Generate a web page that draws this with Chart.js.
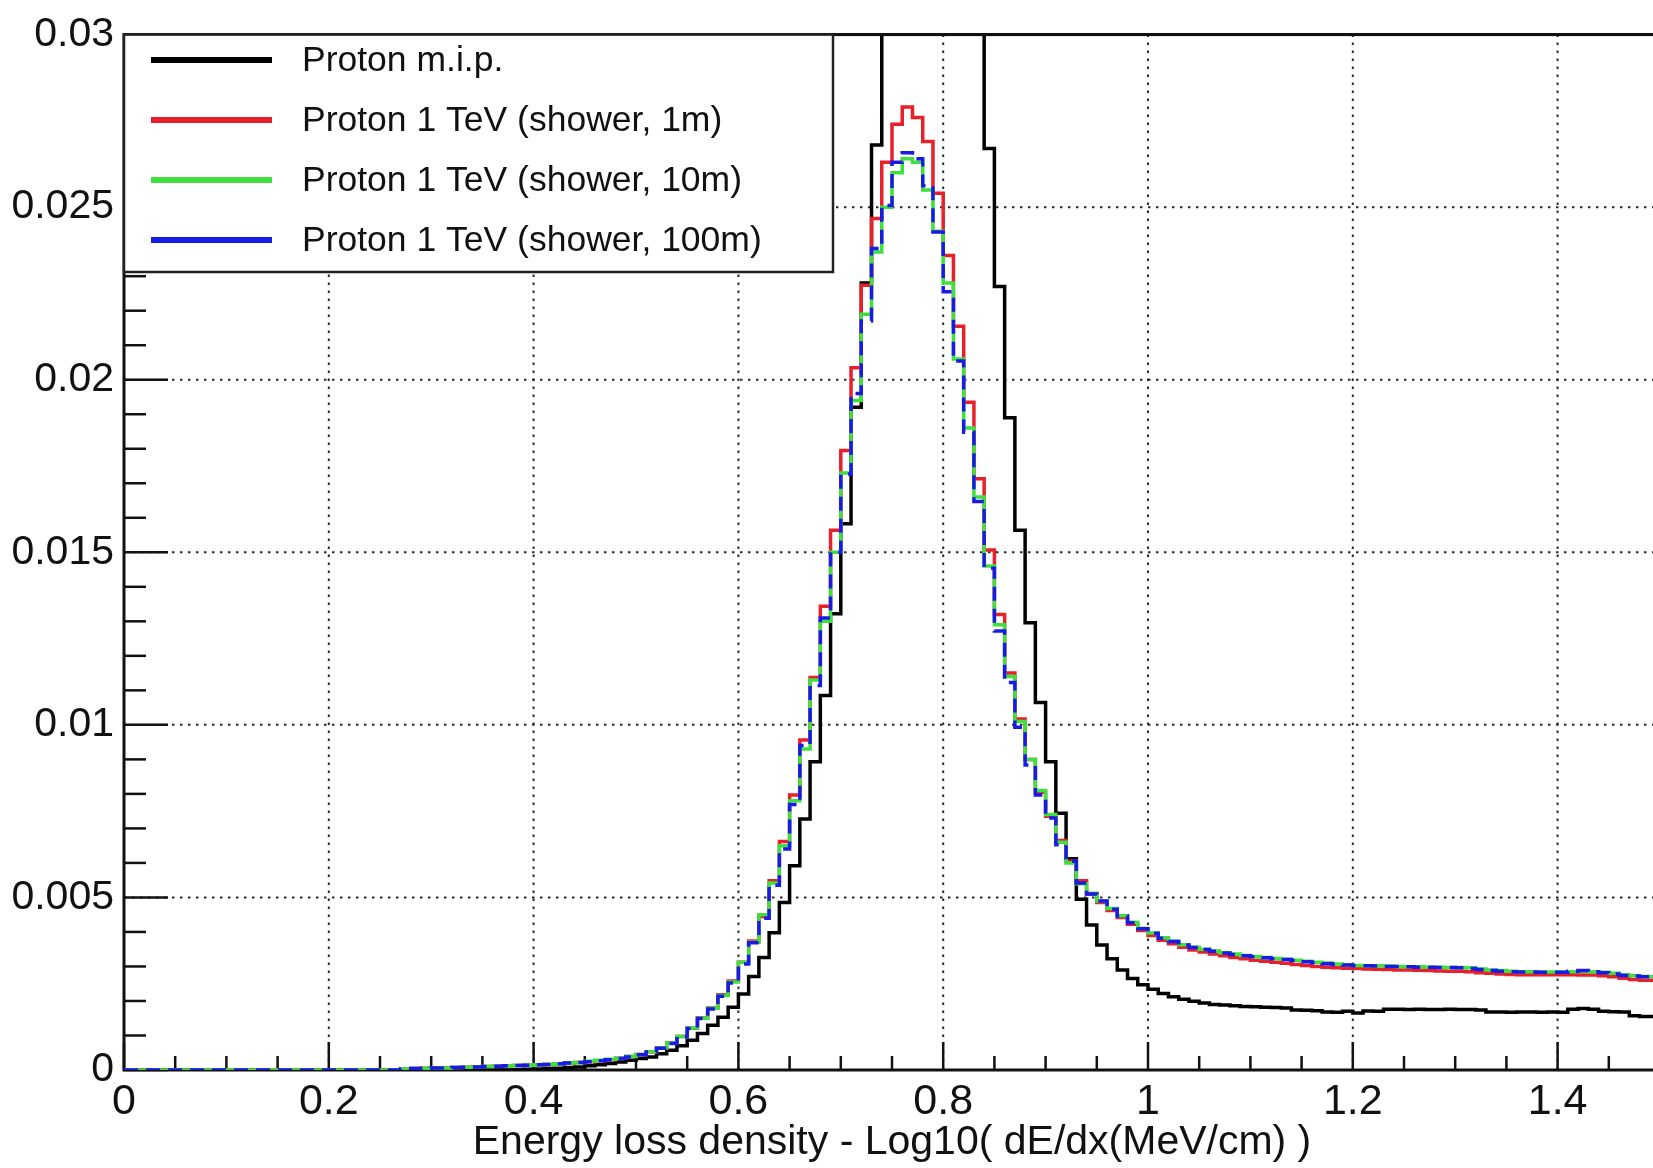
<!DOCTYPE html>
<html lang="en">
<head>
<meta charset="utf-8"/>
<title>Energy loss density</title>
<script src="https://cdn.jsdelivr.net/npm/chart.js"></script>
<style>
    html, body { margin: 0; padding: 0; background: #fff; overflow: hidden; }
    #wrap { width: 1653px; height: 1168px; overflow: hidden; position: relative; }
    #c { position: absolute; left: 0; top: 0; }
</style>
</head>
<body>
<div id="wrap"><canvas id="c" width="1700" height="1168"></canvas></div>
<script>
// histogram binning: 150 bins of 0.01 starting at 0
const binWidth = 0.01;

const xTicks = [0, 0.2, 0.4, 0.6, 0.8, 1.0, 1.2, 1.4];
const yTicks = [0, 0.005, 0.01, 0.015, 0.02, 0.025, 0.03];

const seriesNames = [
    'Proton m.i.p.',
    'Proton 1 TeV (shower, 1m)',
    'Proton 1 TeV (shower, 10m)',
    'Proton 1 TeV (shower, 100m)'
];

// Proton m.i.p. (peak goes above the frame)
const mip = [
    0, 0, 0, 0, 0, 0, 0, 0, 0, 0,
    0, 0, 0, 0, 0, 0, 0, 0, 0, 0,
    0, 0, 0, 0, 0, 0, 0, 0, 0, 0,
    0, 0, 0, 0, 0, 0, 0, 0, 0.00001, 0.00002,
    0.00003, 0.00004, 0.00005, 0.00007, 0.00009, 0.00012, 0.00015, 0.00019, 0.00023, 0.00028,
    0.00033, 0.00038, 0.00047, 0.00057, 0.00070, 0.00086, 0.00106, 0.00130, 0.00153, 0.00182,
    0.00220, 0.00271, 0.00326, 0.00398, 0.00485, 0.00592, 0.00727, 0.00893, 0.01085, 0.01322,
    0.01583, 0.01920, 0.02280, 0.02680, 0.0310, 0.0340, 0.0362, 0.0375, 0.0380, 0.0378,
    0.0368, 0.0350, 0.0328, 0.0306, 0.02670, 0.02270, 0.01890, 0.01564, 0.01296, 0.01065,
    0.00893, 0.00744, 0.00612, 0.00495, 0.00420, 0.00362, 0.00322, 0.00290, 0.00265, 0.00247,
    0.00234, 0.00222, 0.00212, 0.00205, 0.00199, 0.00194, 0.00190, 0.00188, 0.00186, 0.00184,
    0.00183, 0.00182, 0.00181, 0.00180, 0.00174, 0.00173, 0.00172, 0.00168, 0.00167, 0.00170,
    0.00165, 0.00171, 0.00170, 0.00176, 0.00176, 0.00175, 0.00176, 0.00175, 0.00175, 0.00176,
    0.00175, 0.00175, 0.00174, 0.00168, 0.00168, 0.00167, 0.00168, 0.00168, 0.00167, 0.00168,
    0.00167, 0.00176, 0.00178, 0.00176, 0.00170, 0.00169, 0.00168, 0.00157, 0.00155, 0.00155
];

// Proton 1 TeV (shower, 1m)
const shower1m = [
    0, 0, 0, 0, 0, 0, 0, 0, 0, 0,
    0, 0, 0, 0, 0, 0, 0, 0, 0, 0,
    0, 0, 0, 0, 0, 0, 0, 0.00003, 0.00004, 0.00005,
    0.00006, 0.00006, 0.00007, 0.00008, 0.00009, 0.00010, 0.00011, 0.00012, 0.00013, 0.00014,
    0.00015, 0.00016, 0.00018, 0.00020, 0.00022, 0.00024, 0.00027, 0.00030, 0.00034, 0.00039,
    0.00045, 0.00053, 0.00064, 0.00078, 0.00097, 0.00121, 0.00151, 0.00180, 0.00218, 0.00258,
    0.00312, 0.00374, 0.00445, 0.00548, 0.00662, 0.00797, 0.00956, 0.01137, 0.01344, 0.01564,
    0.01795, 0.02035, 0.02274, 0.02467, 0.02630, 0.02740, 0.02790, 0.02760, 0.02690, 0.02540,
    0.02360, 0.02155, 0.01935, 0.01713, 0.01507, 0.01320, 0.01150, 0.01017, 0.00900, 0.00805,
    0.00735, 0.00665, 0.00605, 0.00548, 0.00510, 0.00485, 0.00462, 0.00442, 0.00422, 0.00404,
    0.00390, 0.00376, 0.00366, 0.00356, 0.00348, 0.00342, 0.00336, 0.00331, 0.00326, 0.00322,
    0.00318, 0.00315, 0.00312, 0.00309, 0.00306, 0.00303, 0.00300, 0.00298, 0.00296, 0.00295,
    0.00294, 0.00293, 0.00292, 0.00291, 0.00290, 0.00290, 0.00289, 0.00288, 0.00287, 0.00286,
    0.00286, 0.00285, 0.00282, 0.00280, 0.00278, 0.00277, 0.00276, 0.00276, 0.00276, 0.00276,
    0.00276, 0.00276, 0.00275, 0.00275, 0.00273, 0.00270, 0.00266, 0.00262, 0.00260, 0.00260
];

// Proton 1 TeV (shower, 10m)
const shower10m = [
    0, 0, 0, 0, 0, 0, 0, 0, 0, 0,
    0, 0, 0, 0, 0, 0, 0, 0, 0, 0,
    0, 0, 0, 0, 0, 0, 0, 0.00003, 0.00004, 0.00005,
    0.00006, 0.00006, 0.00007, 0.00008, 0.00009, 0.00010, 0.00011, 0.00012, 0.00013, 0.00014,
    0.00015, 0.00016, 0.00018, 0.00020, 0.00022, 0.00025, 0.00028, 0.00031, 0.00034, 0.00039,
    0.00045, 0.00053, 0.00064, 0.00078, 0.00097, 0.00122, 0.00150, 0.00179, 0.00216, 0.00255,
    0.00312, 0.00370, 0.00450, 0.00542, 0.00650, 0.00780, 0.00930, 0.01130, 0.01300, 0.01500,
    0.01730, 0.01940, 0.02190, 0.02370, 0.02500, 0.02600, 0.02640, 0.02630, 0.02550, 0.02430,
    0.02280, 0.02060, 0.01860, 0.01660, 0.01460, 0.01290, 0.01140, 0.01010, 0.00900, 0.00810,
    0.00740, 0.00660, 0.00600, 0.00540, 0.00512, 0.00490, 0.00468, 0.00447, 0.00428, 0.00410,
    0.00397, 0.00383, 0.00373, 0.00363, 0.00356, 0.00350, 0.00345, 0.00340, 0.00336, 0.00332,
    0.00329, 0.00326, 0.00323, 0.00321, 0.00318, 0.00315, 0.00312, 0.00310, 0.00307, 0.00305,
    0.00303, 0.00302, 0.00302, 0.00301, 0.00300, 0.00299, 0.00299, 0.00298, 0.00298, 0.00297,
    0.00297, 0.00296, 0.00293, 0.00290, 0.00288, 0.00286, 0.00285, 0.00285, 0.00284, 0.00284,
    0.00284, 0.00285, 0.00286, 0.00285, 0.00283, 0.00280, 0.00276, 0.00273, 0.00271, 0.00270
];

// Proton 1 TeV (shower, 100m)
const shower100m = [
    0, 0, 0, 0, 0, 0, 0, 0, 0, 0,
    0, 0, 0, 0, 0, 0, 0, 0, 0, 0,
    0, 0, 0, 0, 0, 0, 0, 0.00003, 0.00004, 0.00005,
    0.00006, 0.00006, 0.00007, 0.00008, 0.00009, 0.00010, 0.00011, 0.00012, 0.00013, 0.00014,
    0.00015, 0.00016, 0.00018, 0.00020, 0.00022, 0.00024, 0.00027, 0.00030, 0.00033, 0.00038,
    0.00044, 0.00052, 0.00063, 0.00077, 0.00096, 0.00120, 0.00149, 0.00177, 0.00214, 0.00252,
    0.00307, 0.00369, 0.00440, 0.00535, 0.00640, 0.00769, 0.00940, 0.01114, 0.01310, 0.01500,
    0.01727, 0.01960, 0.02170, 0.02380, 0.02505, 0.02630, 0.02658, 0.02640, 0.02562, 0.02428,
    0.02255, 0.02054, 0.01848, 0.01647, 0.01454, 0.01272, 0.01123, 0.00993, 0.00884, 0.00797,
    0.00730, 0.00653, 0.00605, 0.00542, 0.00510, 0.00490, 0.00466, 0.00446, 0.00427, 0.00409,
    0.00396, 0.00382, 0.00372, 0.00362, 0.00355, 0.00349, 0.00344, 0.00339, 0.00335, 0.00331,
    0.00328, 0.00325, 0.00322, 0.00320, 0.00317, 0.00314, 0.00311, 0.00308, 0.00306, 0.00304,
    0.00302, 0.00302, 0.00301, 0.00300, 0.00300, 0.00299, 0.00298, 0.00298, 0.00297, 0.00297,
    0.00296, 0.00294, 0.00291, 0.00288, 0.00286, 0.00285, 0.00284, 0.00284, 0.00283, 0.00283,
    0.00283, 0.00286, 0.00288, 0.00285, 0.00282, 0.00278, 0.00274, 0.00272, 0.00270, 0.00270
];

const colors = ['#000000', '#e8202a', '#3ee03e', '#1a1ae6'];
const fontFamily = "'Liberation Sans', Arial, sans-serif";

// bin contents -> step points at the low edge of each bin, plus the closing edge
function histPoints(values) {
    const pts = values.map((v, i) => ({ x: i * binWidth, y: v }));
    pts.push({ x: values.length * binWidth, y: values[values.length - 1] });
    return pts;
}

function line(ctx, x1, y1, x2, y2) {
    ctx.beginPath();
    ctx.moveTo(x1, y1);
    ctx.lineTo(x2, y2);
    ctx.stroke();
}

// ROOT-like look: dotted grid, inside ticks, frame and a boxed legend
const rootStyle = {
    id: 'rootStyle',
    beforeDatasetsDraw(chart) {
        const { ctx, chartArea: a, scales: { x, y } } = chart;
        ctx.save();

        // dotted grid
        ctx.strokeStyle = '#2a2a2a';
        ctx.lineWidth = 2;
        ctx.setLineDash([2.5, 5.5]);
        xTicks.forEach(v => {
            if (v === 0) return;
            const px = x.getPixelForValue(v);
            line(ctx, px, a.top, px, a.bottom);
        });
        yTicks.forEach(v => {
            if (v === 0) return;
            const py = y.getPixelForValue(v);
            line(ctx, a.left, py, a.right, py);
        });
        ctx.setLineDash([]);

        // frame (histograms are drawn over it)
        ctx.strokeStyle = '#111';
        ctx.lineWidth = 3;
        ctx.strokeRect(a.left, a.top, a.right - a.left, a.bottom - a.top);

        // x ticks (inside, pointing up)
        ctx.lineWidth = 2.5;
        for (let i = 0; i < xTicks.length; i++) {
            const v = xTicks[i];
            line(ctx, x.getPixelForValue(v), a.bottom, x.getPixelForValue(v), a.bottom - 28);
            for (let k = 1; k < 4; k++) {
                const m = v + k * 0.05;
                if (m >= x.max) break;
                const px = x.getPixelForValue(m);
                line(ctx, px, a.bottom, px, a.bottom - 14);
            }
        }
        // y ticks (inside, pointing right)
        for (let i = 0; i < yTicks.length; i++) {
            const v = yTicks[i];
            line(ctx, a.left, y.getPixelForValue(v), a.left + 44, y.getPixelForValue(v));
            if (i === yTicks.length - 1) break;
            for (let k = 1; k < 5; k++) {
                const py = y.getPixelForValue(v + k * 0.001);
                line(ctx, a.left, py, a.left + 22, py);
            }
        }
        ctx.restore();
    },
    afterDatasetsDraw(chart) {
        const { ctx, chartArea: a } = chart;
        ctx.save();
        // top border stays on top of the clipped peak
        ctx.strokeStyle = '#111';
        ctx.lineWidth = 3;
        line(ctx, a.left, a.top, a.right, a.top);

        // legend
        const lx = a.left, ly = a.top, lw = 833 - a.left, lh = 272 - a.top;
        ctx.fillStyle = '#fff';
        ctx.fillRect(lx, ly, lw, lh);
        ctx.lineWidth = 2.5;
        ctx.strokeStyle = '#222';
        ctx.strokeRect(lx, ly, lw, lh);
        ctx.font = '35.5px ' + fontFamily;
        ctx.textBaseline = 'middle';
        ctx.textAlign = 'left';
        seriesNames.forEach((name, i) => {
            const ry = 60 + i * 60;
            ctx.strokeStyle = colors[i];
            ctx.lineWidth = 6;
            line(ctx, 151, ry, 272, ry);
            ctx.fillStyle = '#111';
            ctx.fillText(name, 302, ry + 1);
        });
        ctx.restore();
    }
};

const allSeries = [mip, shower1m, shower10m, shower100m];
const drawOrder = [4, 3, 2, 1];

new Chart(document.getElementById('c'), {
    type: 'line',
    data: {
        datasets: allSeries.map((vals, i) => ({
            label: seriesNames[i],
            data: histPoints(vals),
            borderColor: colors[i],
            borderWidth: 3.5,
            borderDash: i === 3 ? [14, 8] : [],
            stepped: true,
            pointRadius: 0,
            fill: false,
            tension: 0,
            order: drawOrder[i]
        }))
    },
    options: {
        responsive: false,
        animation: false,
        devicePixelRatio: 1,
        layout: { padding: { left: 0, right: 40, top: 28, bottom: 0 } },
        plugins: {
            legend: { display: false },
            tooltip: { enabled: false }
        },
        scales: {
            x: {
                type: 'linear',
                min: 0,
                max: 1.5,
                grid: { display: false, drawTicks: false },
                border: { display: false },
                afterBuildTicks: s => { s.ticks = xTicks.map(v => ({ value: v })); },
                afterFit: s => { s.height = 98; },
                ticks: {
                    color: '#111',
                    padding: 6,
                    maxRotation: 0,
                    autoSkip: false,
                    font: { family: fontFamily, size: 43 },
                    callback: v => String(+v.toFixed(1))
                },
                title: {
                    display: true,
                    text: 'Energy loss density - Log10( dE/dx(MeV/cm) )',
                    color: '#111',
                    padding: { top: 0, bottom: 1 },
                    font: { family: fontFamily, size: 41 }
                }
            },
            y: {
                type: 'linear',
                min: 0,
                max: 0.03,
                grid: { display: false, drawTicks: false },
                border: { display: false },
                afterBuildTicks: s => { s.ticks = yTicks.map(v => ({ value: v })); },
                afterFit: s => { s.width = 124; },
                ticks: {
                    color: '#111',
                    padding: 10,
                    autoSkip: false,
                    font: { family: fontFamily, size: 41 },
                    callback: v => String(+v.toFixed(3))
                }
            }
        }
    },
    plugins: [rootStyle]
});
</script>
</body>
</html>
